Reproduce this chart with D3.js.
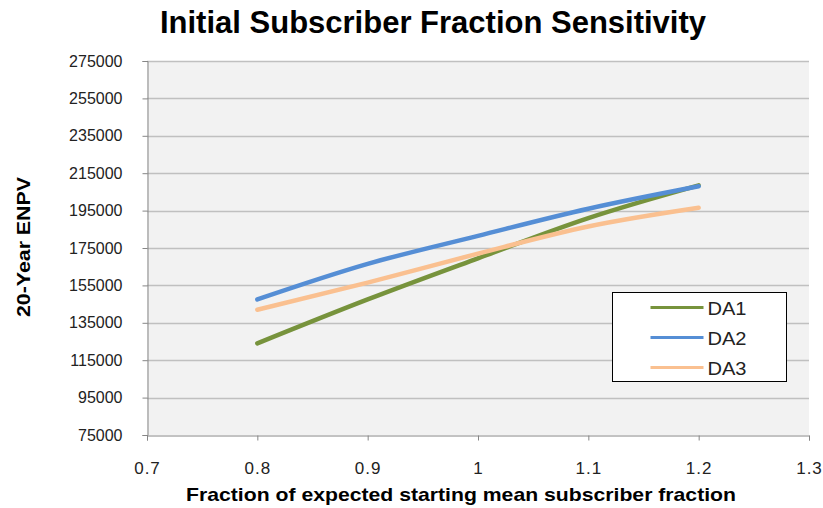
<!DOCTYPE html>
<html>
<head>
<meta charset="utf-8">
<script src="https://cdn.jsdelivr.net/npm/d3@7/dist/d3.min.js"></script>
<style>
  html, body { margin: 0; padding: 0; background: #fff; }
  svg { display: block; font-family: Arial, "Liberation Sans", sans-serif; }
</style>
</head>
<body>
<svg id="chart" width="823" height="508"></svg>
<script>
// Sensitivity inputs (fraction of expected starting mean subscriber fraction)
const fractions = [0.8, 0.9, 1.0, 1.1, 1.2];

// 20-year ENPV for each design alternative
const da1 = [124000, 147500, 169500, 191000, 208500];
const da2 = [147500, 166500, 181500, 196000, 208000];
const da3 = [142000, 156500, 172000, 186500, 196500];

const seriesNames = ["DA1", "DA2", "DA3"];
const seriesColors = ["#77933C", "#558ED5", "#FAC090"];

const xTicks = [0.7, 0.8, 0.9, 1.0, 1.1, 1.2, 1.3];
const yTicks = [75000, 95000, 115000, 135000, 155000, 175000, 195000, 215000, 235000, 255000, 275000];

const series = [da1, da2, da3].map((vals, i) => ({
  name: seriesNames[i],
  color: seriesColors[i],
  points: fractions.map((f, j) => ({ x: f, y: vals[j] }))
}));

const svg = d3.select("#chart");
const plot = { left: 147, right: 809, top: 61, bottom: 435 };

const x = d3.scaleLinear().domain([0.7, 1.3]).range([plot.left, plot.right]);
const y = d3.scaleLinear().domain([75000, 275000]).range([plot.bottom, plot.top]);

// plot area background
svg.append("rect")
  .attr("x", plot.left).attr("y", plot.top)
  .attr("width", plot.right - plot.left).attr("height", plot.bottom - plot.top)
  .attr("fill", "#F2F2F2");

// horizontal gridlines
svg.append("g")
  .selectAll("line")
  .data(yTicks.slice(1))
  .join("line")
  .attr("x1", plot.left).attr("x2", plot.right)
  .attr("y1", d => Math.round(y(d)) + 0.5).attr("y2", d => Math.round(y(d)) + 0.5)
  .attr("stroke", "#C0C0C0").attr("stroke-width", 1.5);

// y axis
const yAxis = svg.append("g")
  .attr("transform", `translate(${plot.left + 0.5},0)`)
  .call(d3.axisLeft(y).tickValues(yTicks).tickFormat(d3.format("d")).tickSize(5).tickPadding(20));
yAxis.select(".domain").attr("stroke", "#868686");
yAxis.selectAll(".tick line").attr("stroke", "#868686");
yAxis.selectAll(".tick text")
  .attr("font-size", 16).attr("fill", "#222")
  .attr("font-family", "Arial, 'Liberation Sans', sans-serif");

// x axis
const xAxis = svg.append("g")
  .attr("transform", `translate(0,${plot.bottom + 0.5})`)
  .call(d3.axisBottom(x).tickValues(xTicks).tickFormat(d => d3.format("")(+d.toFixed(1))).tickSize(5).tickPadding(21));
xAxis.select(".domain").attr("stroke", "#868686");
xAxis.selectAll(".tick line").attr("stroke", "#868686");
xAxis.selectAll(".tick text")
  .attr("font-size", 17).attr("fill", "#222")
  .attr("letter-spacing", 1)
  .attr("font-family", "Arial, 'Liberation Sans', sans-serif");

// series lines
const line = d3.line()
  .x(d => x(d.x))
  .y(d => y(d.y))
  .curve(d3.curveMonotoneX);

svg.append("g")
  .selectAll("path")
  .data(series)
  .join("path")
  .attr("d", d => line(d.points))
  .attr("fill", "none")
  .attr("stroke", d => d.color)
  .attr("stroke-width", 4.5)
  .attr("stroke-linecap", "round")
  .attr("stroke-linejoin", "round");

// title
svg.append("text")
  .attr("x", 433).attr("y", 33)
  .attr("text-anchor", "middle")
  .attr("font-size", 31).attr("font-weight", "bold").attr("fill", "#000")
  .text("Initial Subscriber Fraction Sensitivity");

// axis titles
svg.append("text")
  .attr("x", 461).attr("y", 501)
  .attr("text-anchor", "middle")
  .attr("font-size", 19).attr("font-weight", "bold").attr("fill", "#000")
  .attr("textLength", 550).attr("lengthAdjust", "spacingAndGlyphs")
  .text("Fraction of expected starting mean subscriber fraction");

svg.append("text")
  .attr("transform", "translate(30,247) rotate(-90)")
  .attr("text-anchor", "middle")
  .attr("font-size", 19).attr("font-weight", "bold").attr("fill", "#000")
  .attr("textLength", 140).attr("lengthAdjust", "spacingAndGlyphs")
  .text("20-Year ENPV");

// legend
const legend = svg.append("g").attr("transform", "translate(612.5,292.5)");
legend.append("rect")
  .attr("width", 174).attr("height", 89)
  .attr("fill", "#fff").attr("stroke", "#000").attr("stroke-width", 1);
const items = legend.selectAll("g.item")
  .data(series)
  .join("g")
  .attr("class", "item")
  .attr("transform", (d, i) => `translate(0,${15 + i * 30})`);
items.append("line")
  .attr("x1", 38).attr("x2", 91)
  .attr("stroke", d => d.color).attr("stroke-width", 3);
items.append("text")
  .attr("x", 95).attr("y", 7)
  .attr("font-size", 18).attr("fill", "#222")
  .attr("textLength", 39).attr("lengthAdjust", "spacingAndGlyphs")
  .text(d => d.name);
</script>
</body>
</html>
